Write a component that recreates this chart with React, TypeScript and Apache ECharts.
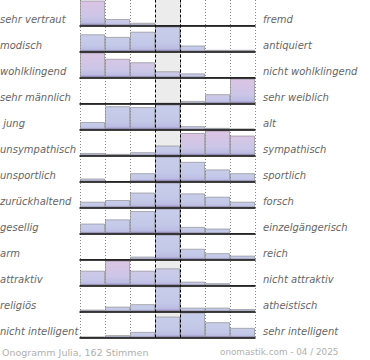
import React, { useEffect, useRef } from "react";
import * as echarts from "echarts";

const LEFT_LABELS = [
  "sehr vertraut", "modisch", "wohlklingend", "sehr männlich", " jung", "unsympathisch",
  "unsportlich", "zurückhaltend", "gesellig", "arm", "attraktiv", "religiös", "nicht intelligent",
];
const RIGHT_LABELS = [
  "fremd", "antiquiert", "nicht wohlklingend", "sehr weiblich", "alt", "sympathisch",
  "sportlich", "forsch", "einzelgängerisch", "reich", "nicht attraktiv", "atheistisch", "sehr intelligent",
];
const SCALE_STEPS = ["1", "2", "3", "4", "5", "6", "7"];

// share of votes (%) per step, one array per pair of adjectives
const VOTES_PCT = [
  [73, 19, 8, 0, 0, 0, 0],
  [20, 17, 23, 29, 7, 2, 2],
  [36, 27, 22, 9, 6, 0, 0],
  [0, 0, 0, 1, 7, 25, 67],
  [9, 28, 27, 30, 4, 2, 1],
  [3, 2, 4, 12, 27, 30, 24],
  [4, 0, 11, 33, 26, 16, 11],
  [7, 9, 18, 30, 17, 13, 7],
  [12, 17, 27, 30, 8, 6, 0],
  [0, 0, 6, 51, 22, 13, 8],
  [19, 32, 19, 22, 5, 3, 0],
  [4, 10, 15, 51, 8, 8, 5],
  [1, 3, 7, 26, 31, 19, 12],
];

// how far each bar lies above the average of all names (0 = not above, 1 = clearly above)
const ABOVE_AVERAGE = [
  [1, 0.3, 0.2, 0, 0, 0, 0],
  [0, 0, 0, 0, 0, 0, 0],
  [1, 0.8, 0.7, 0.3, 0.2, 0, 0],
  [0, 0, 0, 0, 0.2, 0.3, 1],
  [0, 0, 0, 0, 0, 0, 0],
  [0, 0, 0, 0, 1, 1, 0.8],
  [0, 0, 0, 0, 0, 0, 0],
  [0, 0, 0, 0, 0, 0, 0],
  [0, 0, 0, 0, 0, 0, 0],
  [0, 0, 0, 0, 0, 0, 0],
  [0.3, 1, 0.3, 0.2, 0, 0, 0],
  [0, 0, 0, 0, 0, 0, 0],
  [0, 0, 0, 0, 0, 0, 0],
];

const FOOTER_LEFT = "Onogramm Julia, 162 Stimmen";
const FOOTER_RIGHT = "onomastik.com - 04 / 2025";

const ROW_PITCH = 26;
const ROW_H = 25;
const PLOT_LEFT = 80;
const PLOT_W = 175;
const FIRST_TOP = 0.5;

function hexToRgb(h: string) {
  const n = parseInt(h.slice(1), 16);
  return [(n >> 16) & 255, (n >> 8) & 255, n & 255];
}
function mix(a: string, b: string, t: number) {
  const A = hexToRgb(a);
  const B = hexToRgb(b);
  const c = A.map((v, i) => Math.round(v + (B[i] - v) * t));
  return `rgb(${c[0]},${c[1]},${c[2]})`;
}

function barColor(tint: number) {
  const top = mix("#c8cdea", "#dcc4e4", tint);
  const mid = mix("#c3c8e8", "#d2c5e6", tint * 0.6);
  return new echarts.graphic.LinearGradient(0, 0, 0, 1, [
    { offset: 0, color: top },
    { offset: 0.65, color: mid },
    { offset: 0.9, color: "#bcbce2" },
    { offset: 1, color: "#9a8cc6" },
  ]);
}

export default function App() {
  const ref = useRef<HTMLDivElement>(null);

  useEffect(() => {
    document.body.style.margin = "0";
    if (!ref.current) return;
    const chart = echarts.init(ref.current, undefined, { renderer: "svg" });
    const n = VOTES_PCT.length;
    const bgIndex = n;

    const grids: any[] = VOTES_PCT.map((_, i) => ({
      left: PLOT_LEFT,
      width: PLOT_W,
      top: FIRST_TOP + ROW_PITCH * i,
      height: ROW_H,
    }));
    grids.push({ left: PLOT_LEFT, width: PLOT_W, top: 0, height: FIRST_TOP + ROW_PITCH * (n - 1) + ROW_H });

    const xAxes: any[] = VOTES_PCT.map((_, i) => ({
      type: "category",
      gridIndex: i,
      data: SCALE_STEPS,
      boundaryGap: true,
      z: 6,
      axisLine: { show: true, lineStyle: { color: "#000", width: 1.5 } },
      axisTick: { show: false },
      axisLabel: { show: false },
      splitLine: { show: false },
    }));
    xAxes.push({
      type: "value",
      gridIndex: bgIndex,
      min: 0,
      max: 7,
      interval: 1,
      axisLine: { show: false },
      axisTick: { show: false },
      axisLabel: { show: false },
      splitLine: { show: true, lineStyle: { type: [1, 2], color: "#888", width: 1 } },
    });

    const yAxes: any[] = VOTES_PCT.map((_, i) => ({
      type: "value",
      gridIndex: i,
      min: 0,
      max: "dataMax",
      show: false,
    }));
    yAxes.push({ type: "value", gridIndex: bgIndex, min: 0, max: 1, show: false });

    const series: any[] = VOTES_PCT.map((row, i) => ({
      type: "bar",
      xAxisIndex: i,
      yAxisIndex: i,
      barCategoryGap: "0%",
      z: 2,
      data: row.map((v, j) => ({
        value: v,
        itemStyle: {
          color: barColor(ABOVE_AVERAGE[i][j]),
          borderColor: "rgba(120,120,120,0.55)",
          borderWidth: 1,
        },
      })),
    }));
    series.push({
      type: "scatter",
      xAxisIndex: bgIndex,
      yAxisIndex: bgIndex,
      symbolSize: 0,
      data: [],
      silent: true,
      markArea: {
        silent: true,
        itemStyle: { color: "#ececec" },
        data: [[{ xAxis: 3 }, { xAxis: 4 }]],
      },
      markLine: {
        silent: true,
        symbol: ["none", "none"],
        label: { show: false },
        lineStyle: { color: "#000", type: [3, 2], width: 1 },
        data: [{ xAxis: 3 }, { xAxis: 4 }],
      },
    });

    const labelFont = { fontFamily: "DejaVu Sans", fontStyle: "italic", fontSize: 10 };
    const graphics: any[] = [];
    VOTES_PCT.forEach((_, i) => {
      const y = FIRST_TOP + ROW_PITCH * i + ROW_H - 6;
      graphics.push({
        type: "text",
        style: { text: LEFT_LABELS[i], x: 0, y, fill: "#666", verticalAlign: "middle", ...labelFont },
      });
      graphics.push({
        type: "text",
        style: { text: RIGHT_LABELS[i], x: 263, y, fill: "#666", verticalAlign: "middle", ...labelFont },
      });
    });
    graphics.push({
      type: "text",
      style: { text: FOOTER_LEFT, x: 2, y: 352, fill: "#b0b0b0", verticalAlign: "middle", fontFamily: "DejaVu Sans", fontSize: 9.5 },
    });
    graphics.push({
      type: "text",
      style: { text: FOOTER_RIGHT, x: 220, y: 352, fill: "#b0b0b0", verticalAlign: "middle", fontFamily: "DejaVu Sans", fontSize: 8.8 },
    });

    chart.setOption({
      animation: false,
      grid: grids,
      xAxis: xAxes,
      yAxis: yAxes,
      series,
      graphic: graphics,
    });
    return () => chart.dispose();
  }, []);

  return <div ref={ref} style={{ width: 370, height: 360 }} />;
}
